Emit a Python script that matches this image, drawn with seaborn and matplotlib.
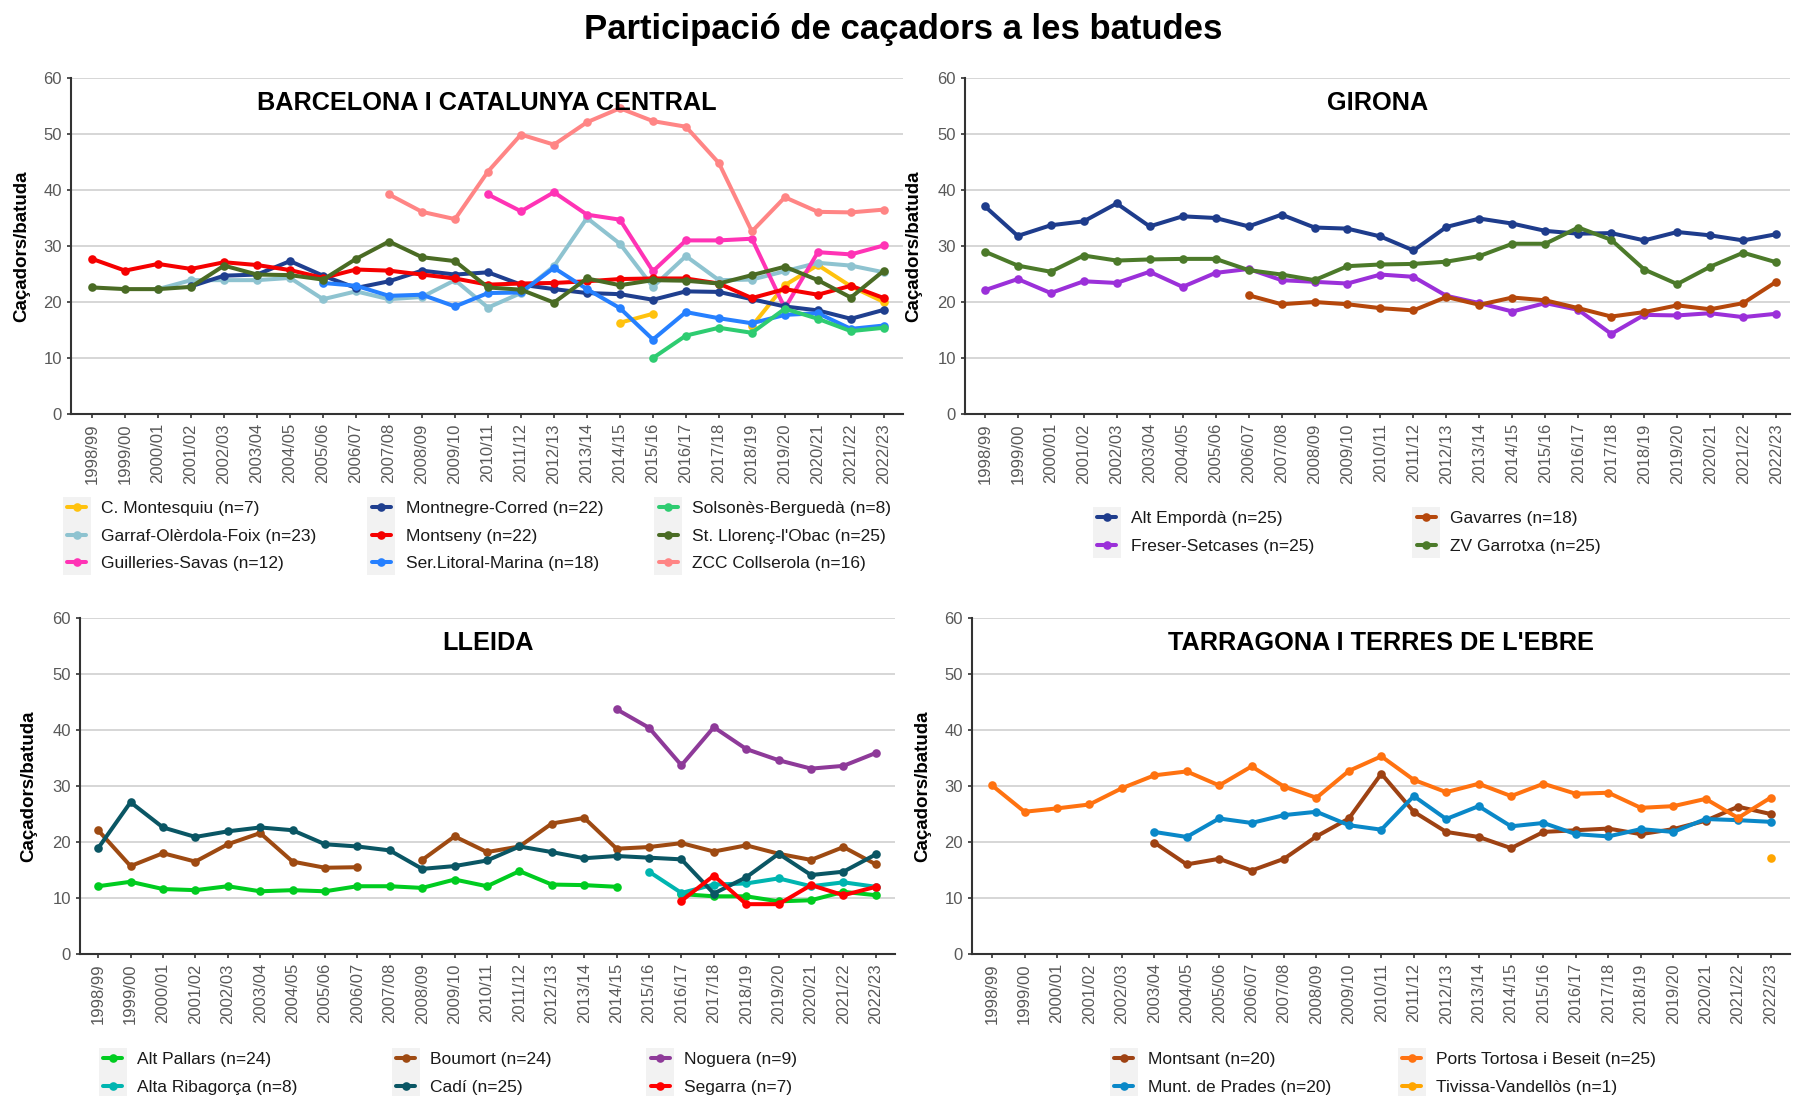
import numpy as np
import pandas as pd
import seaborn as sns
import matplotlib.pyplot as plt
import matplotlib.transforms as mtransforms
from matplotlib.lines import Line2D
from matplotlib.patches import Rectangle

_ = None

seasons = ["1998/99", "1999/00", "2000/01", "2001/02", "2002/03", "2003/04", "2004/05",
           "2005/06", "2006/07", "2007/08", "2008/09", "2009/10", "2010/11", "2011/12",
           "2012/13", "2013/14", "2014/15", "2015/16", "2016/17", "2017/18", "2018/19",
           "2019/20", "2020/21", "2021/22", "2022/23"]

# --- Barcelona i Catalunya Central ---
bcn_names = ["C. Montesquiu (n=7)", "Garraf-Olèrdola-Foix (n=23)", "Guilleries-Savas (n=12)",
             "Montnegre-Corred (n=22)", "Montseny (n=22)", "Ser.Litoral-Marina (n=18)",
             "Solsonès-Berguedà (n=8)", "St. Llorenç-l'Obac (n=25)", "ZCC Collserola (n=16)"]
bcn_colors = ["#FFC20E", "#8EC3D0", "#FF33B5", "#1F3F8F", "#F50000", "#2680FF",
              "#2ECC71", "#4A6B24", "#FF8585"]
c_montesquiu = [_, _, _, _, _, _, _, _, _, _, _, _, _, _, _, _,
                16.3, 17.9, _, _, 15.7, 23.0, 26.6, 22.8, 20.0]
garraf = [_, _, 22.3, 23.9, 23.9, 23.9, 24.3, 20.5, 21.9, 20.5, 20.9, 23.9, 19.0, 21.6,
          26.4, 35.0, 30.4, 22.7, 28.2, 23.9, 24.0, 25.5, 27.0, 26.5, 25.3]
guilleries = [_, _, _, _, _, _, _, _, _, _, _, _, 39.2, 36.2, 39.6, 35.6, 34.7, 25.5,
              31.0, 31.0, 31.3, 18.9, 28.9, 28.5, 30.1]
montnegre = [_, _, _, 22.8, 24.7, 24.9, 27.3, 24.7, 22.5, 23.7, 25.6, 24.9, 25.3, 23.1,
             22.3, 21.6, 21.4, 20.4, 21.9, 21.8, 20.5, 19.2, 18.5, 17.0, 18.6]
montseny = [27.7, 25.6, 26.8, 25.9, 27.1, 26.6, 25.7, 24.3, 25.8, 25.6, 24.9, 24.2, 23.1,
            23.3, 23.4, 23.7, 24.1, 24.2, 24.2, 23.3, 20.7, 22.3, 21.3, 22.9, 20.7]
ser_litoral = [_, _, _, _, _, _, _, 23.4, 22.9, 21.1, 21.3, 19.2, 21.6, 21.7, 26.1, 22.3,
               18.9, 13.3, 18.2, 17.1, 16.2, 17.7, 18.0, 15.2, 15.8]
solsones = [_, _, _, _, _, _, _, _, _, _, _, _, _, _, _, _, _,
            10.0, 14.0, 15.4, 14.5, 18.8, 17.0, 14.8, 15.4]
st_llorenc = [22.6, 22.3, 22.3, 22.7, 26.5, 24.9, 24.8, 24.0, 27.7, 30.8, 28.0, 27.3, 22.6,
              22.2, 19.9, 24.2, 23.0, 23.9, 23.8, 23.3, 24.8, 26.3, 23.9, 20.8, 25.6]
zcc_collserola = [_, _, _, _, _, _, _, _, _, 39.2, 36.1, 34.8, 43.3, 49.9, 48.1, 52.1,
                  54.6, 52.3, 51.3, 44.8, 32.6, 38.7, 36.1, 36.0, 36.5]

# --- Girona ---
gir_names = ["Alt Empordà (n=25)", "Freser-Setcases (n=25)", "Gavarres (n=18)",
             "ZV Garrotxa (n=25)"]
gir_colors = ["#1E3C8C", "#9B30D9", "#B5470B", "#4C7A2A"]
alt_emporda = [37.1, 31.8, 33.7, 34.4, 37.6, 33.5, 35.3, 35.0, 33.5, 35.6, 33.3, 33.1, 31.7,
               29.2, 33.4, 34.9, 34.0, 32.7, 32.2, 32.3, 31.0, 32.5, 31.9, 31.0, 32.1]
freser = [22.1, 24.1, 21.6, 23.7, 23.4, 25.4, 22.7, 25.2, 25.9, 23.9, 23.6, 23.3, 24.9,
          24.5, 21.1, 19.8, 18.3, 19.8, 18.6, 14.3, 17.7, 17.6, 18.0, 17.3, 17.9]
gavarres = [_, _, _, _, _, _, _, _, 21.2, 19.6, 20.0, 19.6, 18.9, 18.5, 20.9, 19.5, 20.8,
            20.3, 18.9, 17.4, 18.2, 19.4, 18.7, 19.8, 23.6]
zv_garrotxa = [29.0, 26.5, 25.4, 28.3, 27.4, 27.6, 27.7, 27.7, 25.7, 24.9, 23.9, 26.4, 26.7,
               26.8, 27.2, 28.2, 30.4, 30.4, 33.3, 31.1, 25.8, 23.2, 26.3, 28.8, 27.1]

# --- Lleida ---
lle_names = ["Alt Pallars (n=24)", "Alta Ribagorça (n=8)", "Boumort (n=24)", "Cadí (n=25)",
             "Noguera (n=9)", "Segarra (n=7)"]
lle_colors = ["#00CC20", "#00B5B0", "#9E4A12", "#0A5664", "#8E3A99", "#FF0000"]
alt_pallars = [12.1, 12.9, 11.6, 11.4, 12.1, 11.2, 11.4, 11.2, 12.1, 12.1, 11.8, 13.3, 12.1,
               14.8, 12.4, 12.3, 12.0, _, 10.7, 10.3, 10.3, 9.4, 9.6, 11.1, 10.5]
alta_ribagorca = [_, _, _, _, _, _, _, _, _, _, _, _, _, _, _, _, _,
                  14.7, 10.9, 12.4, 12.6, 13.5, 12.1, 12.8, 12.0]
boumort = [22.1, 15.7, 18.0, 16.5, 19.6, 21.6, 16.5, 15.4, 15.5, _, 16.8, 21.0, 18.2, 19.2,
           23.3, 24.3, 18.8, 19.1, 19.8, 18.3, 19.4, 17.9, 16.8, 19.1, 16.0]
cadi = [18.9, 27.1, 22.6, 20.9, 21.9, 22.6, 22.1, 19.6, 19.2, 18.5, 15.2, 15.7, 16.7, 19.2,
        18.2, 17.1, 17.5, 17.2, 16.9, 10.8, 13.7, 17.9, 14.1, 14.7, 17.8]
noguera = [_, _, _, _, _, _, _, _, _, _, _, _, _, _, _, _,
           43.7, 40.4, 33.7, 40.5, 36.6, 34.6, 33.1, 33.6, 35.9]
segarra = [_, _, _, _, _, _, _, _, _, _, _, _, _, _, _, _, _, _,
           9.5, 14.0, 8.9, 8.9, 12.3, 10.5, 12.0]

# --- Tarragona i Terres de l'Ebre ---
tar_names = ["Montsant (n=20)", "Munt. de Prades (n=20)", "Ports Tortosa i Beseit (n=25)",
             "Tivissa-Vandellòs (n=1)"]
tar_colors = ["#9E4213", "#0A88C8", "#FF7210", "#FFA500"]
montsant = [_, _, _, _, _, 19.9, 16.0, 17.0, 14.9, 17.0, 21.0, 24.2, 32.2, 25.4, 21.8, 20.9,
            18.9, 21.8, 22.1, 22.4, 21.4, 22.3, 23.8, 26.3, 25.0]
prades = [_, _, _, _, _, 21.8, 20.9, 24.2, 23.4, 24.8, 25.4, 23.0, 22.2, 28.2, 24.1, 26.4,
          22.8, 23.4, 21.4, 21.0, 22.3, 21.8, 24.1, 23.9, 23.6]
ports = [30.1, 25.4, 26.0, 26.7, 29.6, 31.9, 32.6, 30.1, 33.5, 29.9, 27.9, 32.7, 35.3, 31.1,
         28.9, 30.4, 28.2, 30.4, 28.6, 28.8, 26.1, 26.4, 27.7, 24.3, 27.9]
tivissa = [_, _, _, _, _, _, _, _, _, _, _, _, _, _, _, _, _, _, _, _, _, _, _, _, 17.1]

W, H = 1793, 1096
LW, MS = 2.9, 6.2


def to_long(names, series):
    rows = []
    for name, vals in zip(names, series):
        seg, prev = 0, False
        for i, v in enumerate(vals):
            if v is None:
                prev = False
                continue
            if not prev:
                seg += 1
            rows.append((name, i, v, f"{name}#{seg}"))
            prev = True
    return pd.DataFrame(rows, columns=["zona", "idx", "val", "seg"])


sns.set_theme(style="white")
plt.rcParams["font.family"] = ["Liberation Sans", "DejaVu Sans"]

fig = plt.figure(figsize=(W / 100, H / 100), dpi=100)
fig.patch.set_facecolor("white")

# axes rects in pixels: left, top, right, bottom
panels = [
    dict(rect=(71, 78, 903, 414), xlim=(-0.64, 24.58), title="BARCELONA I CATALUNYA CENTRAL",
         names=bcn_names, colors=bcn_colors,
         series=[c_montesquiu, garraf, guilleries, montnegre, montseny, ser_litoral,
                 solsones, st_llorenc, zcc_collserola],
         ylab_x=22, ncol=3, colsp=3.2, leg_xy=(67, 501)),
    dict(rect=(965, 78, 1790, 414), xlim=(-0.6, 24.42), title="GIRONA",
         names=gir_names, colors=gir_colors,
         series=[alt_emporda, freser, gavarres, zv_garrotxa],
         ylab_x=914, ncol=2, colsp=5.9, leg_xy=(1097, 511)),
    dict(rect=(80, 618, 895, 954), xlim=(-0.56, 24.59), title="LLEIDA",
         names=lle_names, colors=lle_colors,
         series=[alt_pallars, alta_ribagorca, boumort, cadi, noguera, segarra],
         ylab_x=29, ncol=3, colsp=5.7, leg_xy=(103, 1052)),
    dict(rect=(972, 618, 1790, 954), xlim=(-0.62, 24.6), title="TARRAGONA I TERRES DE L'EBRE",
         names=tar_names, colors=tar_colors,
         series=[montsant, prades, ports, tivissa],
         ylab_x=923, ncol=2, colsp=4.1, leg_xy=(1114, 1052)),
]

LEG_FS = 12.5
HLEN, HPAD = 1.1, 0.85
legends = []

for p in panels:
    l, t, r, b = p["rect"]
    ax = fig.add_axes([l / W, 1 - b / H, (r - l) / W, (b - t) / H])
    df = to_long(p["names"], p["series"])
    pal = dict(zip(p["names"], p["colors"]))
    sns.lineplot(data=df, x="idx", y="val", hue="zona", hue_order=p["names"], palette=pal,
                 units="seg", estimator=None, sort=False, marker="o", markersize=MS,
                 markeredgewidth=0, linewidth=LW, legend=False, ax=ax)

    ax.set_xlim(*p["xlim"])
    ax.set_ylim(0, 60)
    ax.set_yticks([0, 10, 20, 30, 40, 50, 60])
    ax.set_xticks(range(len(seasons)))
    ax.set_xticklabels(seasons, rotation=90)
    ax.set_xlabel("")
    ax.set_ylabel("Caçadors/batuda", fontsize=13.5, fontweight="bold", color="black")
    trans = mtransforms.blended_transform_factory(fig.transFigure, ax.transAxes)
    ax.yaxis.set_label_coords(p["ylab_x"] / W, 0.5, transform=trans)
    ax.yaxis.label.set_va("center")

    ax.set_axisbelow(True)
    ax.yaxis.grid(True, color="#D3D3D3", linewidth=1.3)
    ax.xaxis.grid(False)
    for s in ["top", "right"]:
        ax.spines[s].set_visible(False)
    for s in ["left", "bottom"]:
        ax.spines[s].set_color("#333333")
        ax.spines[s].set_linewidth(1.5)
    ax.tick_params(axis="both", labelsize=12, labelcolor="#595959", color="#333333",
                   length=3, width=1.2, pad=3.6, left=True, bottom=True)

    ax.text(0.5, 0.926, p["title"], transform=ax.transAxes, ha="center", va="center",
            fontsize=18.2, fontweight="bold", color="black")

    handles = [Line2D([0], [0], color=c, lw=LW, marker="o", ms=MS, mew=0)
               for c in p["colors"]]
    lx, ly = p["leg_xy"]
    leg = ax.legend(handles, p["names"], ncol=p["ncol"], loc="upper left",
                    bbox_to_anchor=(lx / W, 1 - ly / H), bbox_transform=fig.transFigure,
                    frameon=False, fontsize=LEG_FS, handlelength=HLEN, handletextpad=HPAD,
                    columnspacing=p["colsp"], labelspacing=0.71, borderpad=0,
                    borderaxespad=0)
    for txt in leg.get_texts():
        txt.set_color("#1a1a1a")
    nrow = int(np.ceil(len(p["names"]) / p["ncol"]))
    legends.append((leg, nrow))

fig.text(0.504, 0.973, "Participació de caçadors a les batudes", ha="center", va="center",
         fontsize=25, fontweight="bold", color="black")

# light grey key background behind each legend column
fig.canvas.draw()
renderer = fig.canvas.get_renderer()
fs_px = LEG_FS * fig.dpi / 72
for leg, nrow in legends:
    texts = leg.get_texts()
    for c0 in range(0, len(texts), nrow):
        bbs = [tx.get_window_extent(renderer) for tx in texts[c0:c0 + nrow]]
        x0 = min(bb.x0 for bb in bbs)
        cx = x0 - (HPAD + HLEN / 2) * fs_px
        y0 = min(bb.y0 for bb in bbs) - 4
        y1 = max(bb.y1 for bb in bbs) + 4
        fig.add_artist(Rectangle(((cx - 14) / W, y0 / H), 28 / W, (y1 - y0) / H,
                                 transform=fig.transFigure, facecolor="#F2F2F2",
                                 edgecolor="none", zorder=-1))

fig.savefig("out.png", dpi=100)
